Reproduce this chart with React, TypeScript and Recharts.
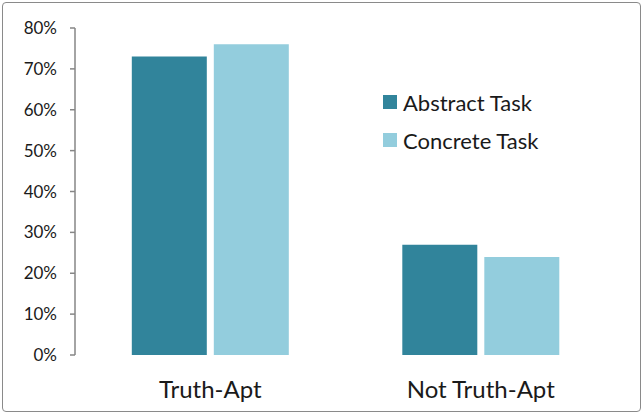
import { BarChart, Bar, XAxis, YAxis, Legend } from 'recharts'

const categories = ['Truth-Apt', 'Not Truth-Apt']
const abstractTask = [0.73, 0.27]
const concreteTask = [0.76, 0.24]
const yTicks = [0, 0.1, 0.2, 0.3, 0.4, 0.5, 0.6, 0.7, 0.8]

const data = categories.map((name, i) => ({
  name,
  abstract: abstractTask[i],
  concrete: concreteTask[i],
}))

const AXIS = '#868686'
const FONT = 'Lato, "Open Sans", sans-serif'

// eslint-disable-next-line @typescript-eslint/no-explicit-any
function LegendBox({ payload }: any) {
  return (
    <div style={{ position: 'absolute', left: 383, top: 83, width: 220, fontFamily: FONT, fontSize: 22, color: '#1a1a1a', textAlign: 'left' }}>
      {(payload || []).map((p: any) => (
        <div key={p.value} style={{ display: 'flex', alignItems: 'center', height: 38 }}>
          <span style={{ width: 14, height: 14, background: p.color, marginRight: 6, display: 'inline-block' }} />
          <span>{p.value}</span>
        </div>
      ))}
    </div>
  )
}

export default function App() {
  return (
    <div style={{ position: 'absolute', left: 0, top: 0, width: 643, height: 414, background: '#fff' }}>
      <div
        style={{
          position: 'absolute', left: 2, top: 2, width: 637, height: 408,
          border: '1.5px solid #8a8a8a', borderRadius: 4,
        }}
      />
      <BarChart
        width={643}
        height={414}
        data={data}
        margin={{ top: 28, right: 27, bottom: 0, left: 0 }}
        barCategoryGap="21%"
        barGap={7}
      >
        <XAxis
          xAxisId="ticks"
          type="number"
          domain={[0, 2]}
          ticks={[0, 1, 2]}
          height={0}
          tick={false}
          tickSize={7}
          axisLine={{ stroke: AXIS, strokeWidth: 1.5 }}
          tickLine={{ stroke: AXIS, strokeWidth: 1.5 }}
        />
        <XAxis
          dataKey="name"
          height={59}
          axisLine={false}
          tickLine={false}
          tickSize={0}
          tickMargin={26}
          tick={{ fill: '#1a1a1a', fontSize: 24, fontFamily: FONT }}
        />
        <YAxis
          width={75}
          domain={[0, 0.8]}
          ticks={yTicks}
          tickFormatter={(v: number) => `${Math.round(v * 100)}%`}
          tickSize={5}
          tickMargin={13}
          axisLine={{ stroke: AXIS, strokeWidth: 1.5 }}
          tickLine={{ stroke: AXIS, strokeWidth: 1.5 }}
          tick={{ fill: '#1a1a1a', fontSize: 17, fontFamily: FONT }}
        />
        <Legend
          layout="horizontal"
          verticalAlign="middle"
          align="center"
          content={<LegendBox />}
          wrapperStyle={{ left: 0, top: 0, width: 643, height: 0 }}
        />
        <Bar dataKey="abstract" name="Abstract Task" fill="#31849B" isAnimationActive={false} />
        <Bar dataKey="concrete" name="Concrete Task" fill="#93CDDD" isAnimationActive={false} />
      </BarChart>
    </div>
  )
}
